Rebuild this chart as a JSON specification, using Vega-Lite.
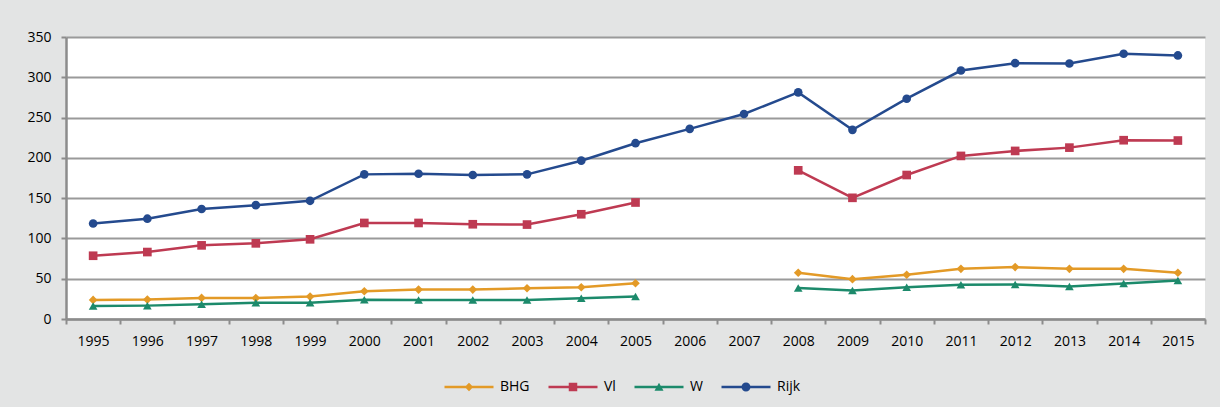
{
  "$schema": "https://vega.github.io/schema/vega-lite/v6.json",
  "width": 1139,
  "height": 282,
  "autosize": {"type": "none"},
  "padding": {"left": 66, "top": 37, "right": 15, "bottom": 88},
  "background": "#e3e4e4",
  "config": {
    "view": {"fill": "white", "stroke": null},
    "font": "Open Sans",
    "legend": {
      "orient": "none",
      "legendX": 396,
      "legendY": 343,
      "direction": "horizontal",
      "labelFontSize": 14,
      "labelColor": "#000000",
      "labelFont": "Open Sans",
      "symbolSize": 100,
      "labelOffset": 24,
      "columnPadding": 18,
      "padding": 0
    }
  },
  "data": {
    "values": [
      {"year": "1995", "series": "Rijk", "value": 118.5},
      {"year": "1996", "series": "Rijk", "value": 124.5},
      {"year": "1997", "series": "Rijk", "value": 136.5},
      {"year": "1998", "series": "Rijk", "value": 141.3},
      {"year": "1999", "series": "Rijk", "value": 146.7},
      {"year": "2000", "series": "Rijk", "value": 179.5},
      {"year": "2001", "series": "Rijk", "value": 180.3},
      {"year": "2002", "series": "Rijk", "value": 178.7},
      {"year": "2003", "series": "Rijk", "value": 179.5},
      {"year": "2004", "series": "Rijk", "value": 196.5},
      {"year": "2005", "series": "Rijk", "value": 218.2},
      {"year": "2006", "series": "Rijk", "value": 236.0},
      {"year": "2007", "series": "Rijk", "value": 254.4},
      {"year": "2008", "series": "Rijk", "value": 281.3},
      {"year": "2009", "series": "Rijk", "value": 234.8},
      {"year": "2010", "series": "Rijk", "value": 273.4},
      {"year": "2011", "series": "Rijk", "value": 308.4},
      {"year": "2012", "series": "Rijk", "value": 317.5},
      {"year": "2013", "series": "Rijk", "value": 317.1},
      {"year": "2014", "series": "Rijk", "value": 329.2},
      {"year": "2015", "series": "Rijk", "value": 327.1},
      {"year": "1995", "series": "Vl", "value": 78.5},
      {"year": "1996", "series": "Vl", "value": 83.1},
      {"year": "1997", "series": "Vl", "value": 91.4},
      {"year": "1998", "series": "Vl", "value": 93.9},
      {"year": "1999", "series": "Vl", "value": 98.9},
      {"year": "2000", "series": "Vl", "value": 119.2},
      {"year": "2001", "series": "Vl", "value": 119.2},
      {"year": "2002", "series": "Vl", "value": 117.6},
      {"year": "2003", "series": "Vl", "value": 117.2},
      {"year": "2004", "series": "Vl", "value": 130.0},
      {"year": "2005", "series": "Vl", "value": 144.6},
      {"year": "2006", "series": "Vl", "value": null},
      {"year": "2007", "series": "Vl", "value": null},
      {"year": "2008", "series": "Vl", "value": 184.5},
      {"year": "2009", "series": "Vl", "value": 150.4},
      {"year": "2010", "series": "Vl", "value": 178.7},
      {"year": "2011", "series": "Vl", "value": 202.4},
      {"year": "2012", "series": "Vl", "value": 208.6},
      {"year": "2013", "series": "Vl", "value": 212.7},
      {"year": "2014", "series": "Vl", "value": 221.9},
      {"year": "2015", "series": "Vl", "value": 221.5},
      {"year": "1995", "series": "BHG", "value": 23.7},
      {"year": "1996", "series": "BHG", "value": 24.1},
      {"year": "1997", "series": "BHG", "value": 26.2},
      {"year": "1998", "series": "BHG", "value": 26.0},
      {"year": "1999", "series": "BHG", "value": 27.8},
      {"year": "2000", "series": "BHG", "value": 34.4},
      {"year": "2001", "series": "BHG", "value": 36.5},
      {"year": "2002", "series": "BHG", "value": 36.5},
      {"year": "2003", "series": "BHG", "value": 38.2},
      {"year": "2004", "series": "BHG", "value": 39.4},
      {"year": "2005", "series": "BHG", "value": 44.4},
      {"year": "2006", "series": "BHG", "value": null},
      {"year": "2007", "series": "BHG", "value": null},
      {"year": "2008", "series": "BHG", "value": 57.4},
      {"year": "2009", "series": "BHG", "value": 49.4},
      {"year": "2010", "series": "BHG", "value": 54.9},
      {"year": "2011", "series": "BHG", "value": 62.3},
      {"year": "2012", "series": "BHG", "value": 64.4},
      {"year": "2013", "series": "BHG", "value": 62.3},
      {"year": "2014", "series": "BHG", "value": 62.3},
      {"year": "2015", "series": "BHG", "value": 57.4},
      {"year": "1995", "series": "W", "value": 16.2},
      {"year": "1996", "series": "W", "value": 16.6},
      {"year": "1997", "series": "W", "value": 18.2},
      {"year": "1998", "series": "W", "value": 20.3},
      {"year": "1999", "series": "W", "value": 20.3},
      {"year": "2000", "series": "W", "value": 24.0},
      {"year": "2001", "series": "W", "value": 23.7},
      {"year": "2002", "series": "W", "value": 23.7},
      {"year": "2003", "series": "W", "value": 23.7},
      {"year": "2004", "series": "W", "value": 25.7},
      {"year": "2005", "series": "W", "value": 27.8},
      {"year": "2006", "series": "W", "value": null},
      {"year": "2007", "series": "W", "value": null},
      {"year": "2008", "series": "W", "value": 38.6},
      {"year": "2009", "series": "W", "value": 35.3},
      {"year": "2010", "series": "W", "value": 39.4},
      {"year": "2011", "series": "W", "value": 42.4},
      {"year": "2012", "series": "W", "value": 42.8},
      {"year": "2013", "series": "W", "value": 40.3},
      {"year": "2014", "series": "W", "value": 44.0},
      {"year": "2015", "series": "W", "value": 47.8}
    ]
  },
  "encoding": {
    "x": {
      "field": "year",
      "type": "ordinal",
      "scale": {"paddingInner": 0, "paddingOuter": 0},
      "axis": {
        "title": null,
        "labelAngle": 0,
        "labelFontSize": 14,
        "labelColor": "#000000",
        "labelPadding": 10,
        "domainColor": "#8c8c8c",
        "domainWidth": 2.5,
        "tickBand": "extent",
        "tickColor": "#8c8c8c",
        "tickWidth": 2,
        "tickSize": 5,
        "grid": false
      }
    },
    "y": {
      "field": "value",
      "type": "quantitative",
      "scale": {"domain": [0, 350], "nice": false},
      "axis": {
        "title": null,
        "values": [0, 50, 100, 150, 200, 250, 300, 350],
        "labelFontSize": 14,
        "labelColor": "#000000",
        "labelPadding": 10,
        "domainColor": "#8c8c8c",
        "domainWidth": 2.5,
        "tickColor": "#8c8c8c",
        "tickWidth": 2,
        "tickSize": 5,
        "grid": true,
        "gridColor": "#9a9a9a",
        "gridWidth": 2
      }
    },
    "color": {
      "field": "series",
      "type": "nominal",
      "scale": {
        "domain": ["BHG", "Vl", "W", "Rijk"],
        "range": ["#e39a27", "#be3a52", "#1c8a6b", "#244a8e"]
      },
      "legend": {
        "title": null,
        "encode": {
          "symbols": {
            "update": {
              "shape": {"signal": "datum.value === 'BHG' ? 'M-4.9,-0.24H4.9V0.24H-4.9Z M-0.85,0L0,-0.85L0.85,0L0,0.85Z' : datum.value === 'Vl' ? 'M-4.9,-0.24H4.9V0.24H-4.9Z M-0.85,-0.85H0.85V0.85H-0.85Z' : datum.value === 'W' ? 'M-4.9,-0.24H4.9V0.24H-4.9Z M0,-0.85L0.9,0.75L-0.9,0.75Z' : 'M-4.9,-0.24H4.9V0.24H-4.9Z M-0.9,0A0.9,0.9 0 1,1 0.9,0A0.9,0.9 0 1,1 -0.9,0Z'"},
              "size": {"value": 100},
              "fill": {"signal": "scale('color', datum.value)"},
              "stroke": {"value": "transparent"},
              "strokeWidth": {"value": 0},
              "opacity": {"value": 1}
            }
          }
        }
      }
    }
  },
  "layer": [
    {
      "mark": {"type": "line", "strokeWidth": 2.5}
    },
    {
      "mark": {"type": "point", "filled": true, "opacity": 1, "size": 75},
      "encoding": {
        "shape": {
          "field": "series",
          "type": "nominal",
          "scale": {
            "domain": ["Rijk", "BHG", "Vl", "W"],
            "range": ["circle", "diamond", "square", "triangle-up"]
          },
          "legend": null
        }
      }
    }
  ]
}
